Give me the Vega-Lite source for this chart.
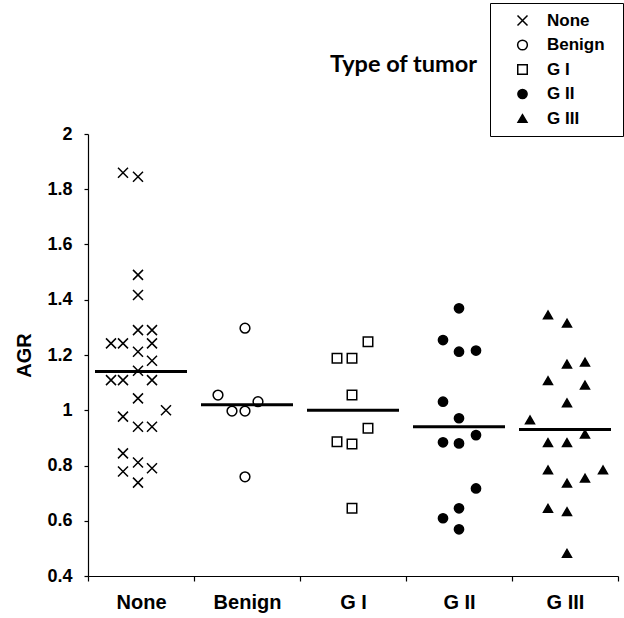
{
  "$schema": "https://vega.github.io/schema/vega-lite/v6.json",
  "autosize": {"type": "none"},
  "padding": {"left": 88, "top": 134, "right": 6, "bottom": 42},
  "width": 530,
  "height": 442,
  "background": "white",
  "title": {
    "text": "Type of tumor",
    "anchor": "end",
    "frame": "group",
    "font": "Lato",
    "fontWeight": "bold",
    "fontSize": 23.5,
    "color": "black",
    "dx": -141,
    "offset": 0,
    "dy": 74
  },
  "config": {
    "view": {"stroke": null},
    "axis": {"grid": false, "domainColor": "black", "tickColor": "black", "labelColor": "black", "titleColor": "black", "labelFont": "Liberation Sans", "titleFont": "Liberation Sans", "labelFontWeight": "bold", "titleFontWeight": "bold", "domainWidth": 1.2, "tickWidth": 1.2}
  },
  "datasets": {
    "points": [
      {"type": "None", "agr": 1.86, "jitter": -18},
      {"type": "None", "agr": 1.845, "jitter": -3},
      {"type": "None", "agr": 1.49, "jitter": -3},
      {"type": "None", "agr": 1.417, "jitter": -3},
      {"type": "None", "agr": 1.29, "jitter": -3},
      {"type": "None", "agr": 1.29, "jitter": 11},
      {"type": "None", "agr": 1.242, "jitter": -30},
      {"type": "None", "agr": 1.242, "jitter": -18},
      {"type": "None", "agr": 1.242, "jitter": 11},
      {"type": "None", "agr": 1.212, "jitter": -3},
      {"type": "None", "agr": 1.179, "jitter": 11},
      {"type": "None", "agr": 1.143, "jitter": -3},
      {"type": "None", "agr": 1.109, "jitter": -30},
      {"type": "None", "agr": 1.109, "jitter": -18},
      {"type": "None", "agr": 1.109, "jitter": 11},
      {"type": "None", "agr": 1.043, "jitter": -3},
      {"type": "None", "agr": 1.0, "jitter": 25},
      {"type": "None", "agr": 0.977, "jitter": -18},
      {"type": "None", "agr": 0.94, "jitter": -3},
      {"type": "None", "agr": 0.94, "jitter": 11},
      {"type": "None", "agr": 0.844, "jitter": -18},
      {"type": "None", "agr": 0.811, "jitter": -3},
      {"type": "None", "agr": 0.79, "jitter": 11},
      {"type": "None", "agr": 0.778, "jitter": -18},
      {"type": "None", "agr": 0.738, "jitter": -3},
      {"type": "Benign", "agr": 1.297, "jitter": -2},
      {"type": "Benign", "agr": 1.055, "jitter": -29},
      {"type": "Benign", "agr": 1.031, "jitter": 11},
      {"type": "Benign", "agr": 0.997, "jitter": -15},
      {"type": "Benign", "agr": 0.997, "jitter": -2},
      {"type": "Benign", "agr": 0.759, "jitter": -2},
      {"type": "G I", "agr": 1.248, "jitter": 15},
      {"type": "G I", "agr": 1.188, "jitter": -16},
      {"type": "G I", "agr": 1.188, "jitter": -1},
      {"type": "G I", "agr": 1.055, "jitter": -1},
      {"type": "G I", "agr": 0.935, "jitter": 15},
      {"type": "G I", "agr": 0.886, "jitter": -16},
      {"type": "G I", "agr": 0.878, "jitter": -1},
      {"type": "G I", "agr": 0.645, "jitter": -1},
      {"type": "G II", "agr": 1.369, "jitter": 0},
      {"type": "G II", "agr": 1.254, "jitter": -16},
      {"type": "G II", "agr": 1.212, "jitter": 0},
      {"type": "G II", "agr": 1.216, "jitter": 17},
      {"type": "G II", "agr": 1.031, "jitter": -16},
      {"type": "G II", "agr": 0.971, "jitter": 0},
      {"type": "G II", "agr": 0.91, "jitter": 17},
      {"type": "G II", "agr": 0.884, "jitter": -16},
      {"type": "G II", "agr": 0.88, "jitter": 0},
      {"type": "G II", "agr": 0.717, "jitter": 17},
      {"type": "G II", "agr": 0.645, "jitter": 0},
      {"type": "G II", "agr": 0.609, "jitter": -16},
      {"type": "G II", "agr": 0.569, "jitter": 0},
      {"type": "G III", "agr": 1.345, "jitter": -17},
      {"type": "G III", "agr": 1.315, "jitter": 2},
      {"type": "G III", "agr": 1.167, "jitter": 2},
      {"type": "G III", "agr": 1.174, "jitter": 20},
      {"type": "G III", "agr": 1.107, "jitter": -17},
      {"type": "G III", "agr": 1.091, "jitter": 20},
      {"type": "G III", "agr": 1.027, "jitter": 2},
      {"type": "G III", "agr": 0.965, "jitter": -35},
      {"type": "G III", "agr": 0.914, "jitter": 20},
      {"type": "G III", "agr": 0.883, "jitter": -17},
      {"type": "G III", "agr": 0.883, "jitter": 2},
      {"type": "G III", "agr": 0.784, "jitter": -17},
      {"type": "G III", "agr": 0.736, "jitter": 2},
      {"type": "G III", "agr": 0.754, "jitter": 20},
      {"type": "G III", "agr": 0.784, "jitter": 38},
      {"type": "G III", "agr": 0.645, "jitter": -17},
      {"type": "G III", "agr": 0.633, "jitter": 2},
      {"type": "G III", "agr": 0.482, "jitter": 2}
    ],
    "means": [
      {"type": "None", "mean": 1.14},
      {"type": "Benign", "mean": 1.02},
      {"type": "G I", "mean": 1.0},
      {"type": "G II", "mean": 0.94},
      {"type": "G III", "mean": 0.93}
    ]
  },
  "encoding": {
    "x": {
      "field": "type",
      "type": "nominal",
      "sort": ["None", "Benign", "G I", "G II", "G III"],
      "scale": {"domain": ["None", "Benign", "G I", "G II", "G III"], "paddingInner": 0, "paddingOuter": 0},
      "axis": {"title": null, "labelAngle": 0, "tickBand": "extent", "tickSize": 5, "labelFontSize": 20, "labelPadding": 11}
    }
  },
  "layer": [
    {
      "data": {"name": "points"},
      "mark": {"type": "point", "filled": true, "stroke": "black", "strokeWidth": 1.5, "opacity": 1},
      "encoding": {
        "xOffset": {"field": "jitter", "type": "quantitative", "scale": {"domain": [-53, 53]}},
        "y": {
          "field": "agr",
          "type": "quantitative",
          "scale": {"domain": [0.4, 2], "nice": false, "zero": false},
          "axis": {"title": "AGR", "values": [0.4, 0.6, 0.8, 1, 1.2, 1.4, 1.6, 1.8, 2], "format": ".1~f", "tickSize": 4, "labelFontSize": 18, "labelPadding": 12, "titleFontSize": 20, "titlePadding": 12}
        },
        "shape": {
          "field": "type", "type": "nominal",
          "scale": {"domain": ["None", "Benign", "G I", "G II", "G III"], "range": ["M-1,-1L1,1M-1,1L1,-1", "circle", "square", "circle", "triangle-up"]},
          "legend": {
            "title": " ", "titleOrient": "right", "titlePadding": 9, "titleFontSize": 17,
            "orient": "none", "legendX": 402, "legendY": -131,
            "strokeColor": "black", "padding": 9, "symbolOffset": 15, "labelOffset": 16,
            "rowPadding": 6.5, "labelFont": "Liberation Sans", "labelFontWeight": "bold", "labelFontSize": 17, "labelColor": "black",
            "symbolStrokeColor": "black", "symbolStrokeWidth": 1.5
          }
        },
        "fill": {
          "field": "type", "type": "nominal",
          "scale": {"domain": ["None", "Benign", "G I", "G II", "G III"], "range": ["white", "white", "white", "black", "black"]}
        },
        "size": {
          "field": "type", "type": "nominal",
          "scale": {"domain": ["None", "Benign", "G I", "G II", "G III"], "range": [100, 80, 132, 160, 240]}
        }
      }
    },
    {
      "data": {"name": "means"},
      "mark": {"type": "tick", "color": "black", "size": 92, "thickness": 3, "opacity": 1},
      "encoding": {
        "y": {"field": "mean", "type": "quantitative"}
      }
    }
  ]
}
